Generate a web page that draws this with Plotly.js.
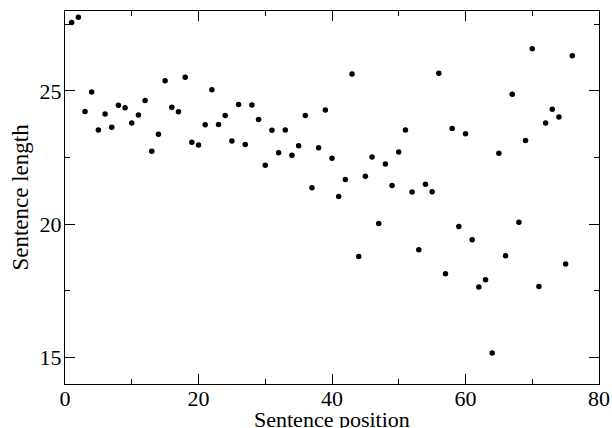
<!DOCTYPE html>
<html>
<head>
<meta charset="utf-8">
<script src="https://cdn.plot.ly/plotly-3.0.1.min.js"></script>
<style>html,body{margin:0;padding:0;background:#fff;}#chart{width:612px;height:428px;}</style>
</head>
<body>
<div id="chart"></div>
<script>
const positions = [1,2,3,4,5,6,7,8,9,10,11,12,13,14,15,16,17,18,19,20,21,22,23,24,25,26,27,28,29,30,31,32,33,34,35,36,37,38,39,40,41,42,43,44,45,46,47,48,49,50,51,52,53,54,55,56,57,58,59,60,61,62,63,64,65,66,67,68,69,70,71,72,73,74,75,76];
const lengths = [27.57,27.77,24.23,24.96,23.53,24.13,23.64,24.46,24.37,23.80,
  24.10,24.64,22.74,23.37,25.38,24.39,24.22,25.51,23.07,22.97,
  23.73,25.04,23.74,24.08,23.12,24.49,22.99,24.47,23.93,22.21,
  23.52,22.68,23.53,22.59,22.94,24.08,21.37,22.87,24.28,22.47,
  21.04,21.68,25.64,18.79,21.80,22.52,20.02,22.26,21.45,22.71,
  23.53,21.21,19.04,21.50,21.22,25.66,18.14,23.59,19.91,23.39,
  19.41,17.64,17.91,15.16,22.66,18.81,24.88,20.07,23.14,26.58,
  17.66,23.80,24.31,24.02,18.50,26.32];
const xTitle = "Sentence position";
const yTitle = "Sentence length";

const fontFam = "Liberation Serif";
const layout = {
  width: 612, height: 428,
  margin: {l: 65, r: 13, t: 11, b: 44},
  paper_bgcolor: "#fff", plot_bgcolor: "#fff",
  showlegend: false,
  font: {family: fontFam, color: "#000", size: 22},
  xaxis: {
    showgrid: false, zeroline: false,
    showline: true, linecolor: "#000", linewidth: 1.2, mirror: "ticks",
    ticks: "inside", ticklen: 10, tickwidth: 1, tickcolor: "#000",
    tickfont: {family: fontFam, size: 22, color: "#000"},
    range: [0, 80], dtick: 20, tick0: 0,
    ticklabelstandoff: -6,
    minor: {dtick: 10, ticks: "inside", ticklen: 5, tickcolor: "#000", tickwidth: 1}
  },
  yaxis: {
    showgrid: false, zeroline: false,
    showline: true, linecolor: "#000", linewidth: 1.2, mirror: "ticks",
    ticks: "inside", ticklen: 10, tickwidth: 1, tickcolor: "#000",
    tickfont: {family: fontFam, size: 22, color: "#000"},
    range: [14, 28], dtick: 5, tick0: 0,
    ticklabelstandoff: -2,
    minor: {dtick: 2.5, ticks: "inside", ticklen: 5, tickcolor: "#000", tickwidth: 1},
    title: {text: yTitle, font: {family: fontFam, size: 23, color: "#000"}, standoff: 4}
  },
  annotations: [{
    text: xTitle, xref: "paper", yref: "paper", x: 0.5, y: 0,
    xanchor: "center", yanchor: "middle", yshift: -35, showarrow: false,
    font: {family: fontFam, size: 22, color: "#000"}
  }]
};
Plotly.newPlot("chart", [{
  type: "scatter", mode: "markers",
  x: positions, y: lengths,
  marker: {color: "#000", size: 5.5},
  cliponaxis: false
}], layout, {staticPlot: true, displayModeBar: false});
</script>
</body>
</html>
